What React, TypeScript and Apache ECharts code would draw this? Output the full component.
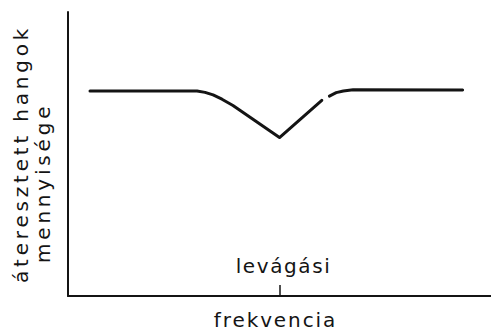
import React, { useEffect, useRef } from "react";
import * as echarts from "echarts";

// Pass-through of a notch (band-stop) filter around the cut-off frequency.
// A "-" entry breaks the line where the drawn curve has a gap.
const frequency = [5.2, 30.5, 32.4, 34.3, 36.4, 39.0, 50.0, 60.0, 61.0, 61.8, 63.4, 65.1, 67.4, 93.3];
const passed: (number | string)[] = [72.2, 72.2, 71.7, 70.8, 69.3, 67.1, 55.8, 68.9, "-", 70.4, 71.6, 72.2, 72.6, 72.5];

const cutoffTicks = [50];
const cutoffLabels = ["levágási"];

const xName = "frekvencia";
const yNameLines = ["áteresztett hangok", "mennyisége"];

const FONT = "DejaVu Sans";
const INK = "#141414";

// Wide, stencil-like lettering: extra tracking per string.
const tracking: Record<string, number> = {
  "áteresztett hangok": 3.8,
  "mennyisége": 3.8,
  "frekvencia": 1.9,
  "levágási": 1.6,
};

export default function App() {
  const ref = useRef<HTMLDivElement>(null);

  useEffect(() => {
    if (!ref.current) return;
    const el = ref.current;
    const chart = echarts.init(el, undefined, { renderer: "svg" });
    const data = frequency.map((f, i) => [f, passed[i]]);

    const applyTracking = () => {
      el.querySelectorAll("text").forEach((t) => {
        const s = tracking[(t.textContent ?? "").trim()];
        if (s) t.setAttribute("letter-spacing", String(s));
      });
    };

    chart.setOption({
      animation: false,
      backgroundColor: "#ffffff",
      grid: { left: 68, right: 0, top: 12, bottom: 31 },
      xAxis: {
        type: "value",
        min: 0,
        max: 100,
        name: xName,
        nameLocation: "middle",
        nameGap: 14,
        nameTextStyle: {
          fontFamily: FONT,
          fontSize: 20,
          color: INK,
          verticalAlign: "top",
          padding: [0, 8, 0, 0],
        },
        axisLine: { show: true, lineStyle: { color: INK, width: 2 } },
        axisTick: {
          show: true,
          inside: true,
          length: 11,
          customValues: cutoffTicks,
          lineStyle: { color: INK, width: 1.5 },
        },
        axisLabel: {
          show: true,
          inside: true,
          margin: 20,
          customValues: cutoffTicks,
          formatter: (v: number) => cutoffLabels[cutoffTicks.indexOf(v)] ?? "",
          fontFamily: FONT,
          fontSize: 20,
          color: INK,
          padding: [0, 0, 0, 8],
        },
        splitLine: { show: false },
      },
      yAxis: {
        type: "value",
        min: 0,
        max: 100,
        axisLine: { show: true, lineStyle: { color: INK, width: 2 } },
        axisTick: { show: false },
        axisLabel: { show: false },
        splitLine: { show: false },
      },
      graphic: [
        {
          type: "text",
          x: 21,
          y: 283,
          rotation: Math.PI / 2,
          style: {
            text: yNameLines[0],
            fontFamily: FONT,
            fontSize: 20,
            fill: INK,
            align: "left",
            verticalAlign: "middle",
          },
        },
        {
          type: "text",
          x: 43,
          y: 263,
          rotation: Math.PI / 2,
          style: {
            text: yNameLines[1],
            fontFamily: FONT,
            fontSize: 20,
            fill: INK,
            align: "left",
            verticalAlign: "middle",
          },
        },
      ],
      series: [
        {
          type: "line",
          data,
          showSymbol: false,
          symbol: "none",
          connectNulls: false,
          lineStyle: { color: INK, width: 3, cap: "round", join: "round" },
        },
      ],
    });

    applyTracking();
    chart.on("finished", applyTracking);

    return () => chart.dispose();
  }, []);

  return (
    <div
      ref={ref}
      style={{ position: "fixed", left: 0, top: 0, width: 491, height: 335 }}
    />
  );
}
